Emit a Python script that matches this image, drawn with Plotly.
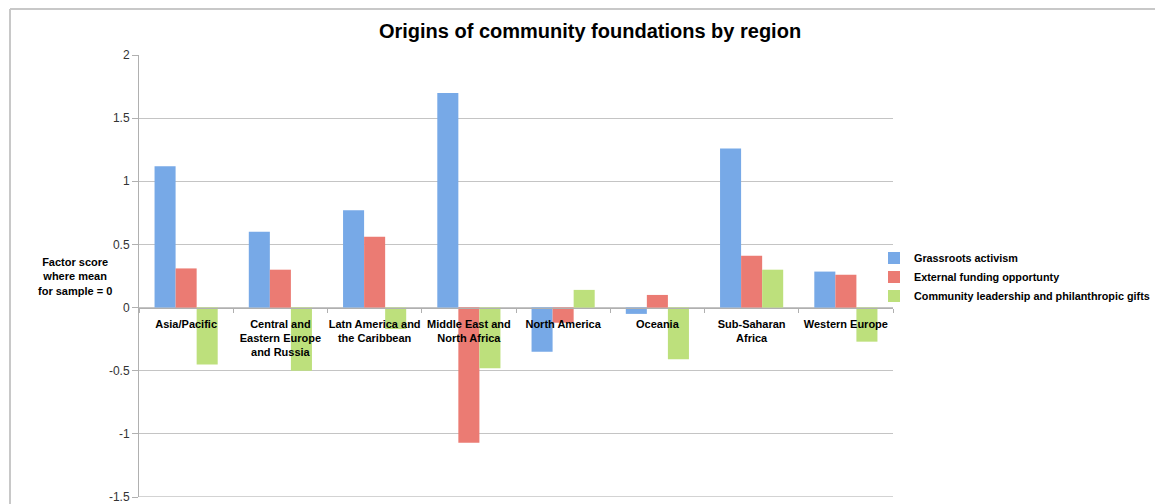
import plotly.graph_objects as go

categories = ["Asia/Pacific", "Central and<br>Eastern Europe<br>and Russia", "Latn America and<br>the Caribbean",
              "Middle East and<br>North Africa", "North America", "Oceania", "Sub-Saharan<br>Africa", "Western Europe"]
grassroots = [1.12, 0.60, 0.77, 1.70, -0.35, -0.05, 1.26, 0.285]
external = [0.31, 0.30, 0.56, -1.07, -0.12, 0.10, 0.41, 0.26]
community = [-0.45, -0.50, -0.17, -0.48, 0.14, -0.41, 0.30, -0.27]
series_names = ["Grassroots activism", "External funding opportunty", "Community leadership and philanthropic gifts"]
colors = ["#77a9e7", "#eb7b73", "#bde07c"]
y_ticks = [-1.5, -1, -0.5, 0, 0.5, 1, 1.5, 2]

FONT = "Liberation Sans, Arial, sans-serif"
fig = go.Figure()
for name, vals, col in zip(series_names, [grassroots, external, community], colors):
    fig.add_trace(go.Bar(x=categories, y=vals, name=name, marker=dict(color=col, line=dict(width=0))))

y_min, y_max = y_ticks[0], y_ticks[-1]
zero_pos = (0 - y_min) / (y_max - y_min)

# page body has an 8px margin: figure pixel = screen pixel - 8
W, H = 1155, 496
L, T, PW, PH = 131, 47, 754, 442

fig.update_layout(
    width=W, height=H,
    margin=dict(l=L, r=W - L - PW, t=T, b=H - T - PH, autoexpand=False),
    paper_bgcolor="white", plot_bgcolor="white",
    barmode="group", bargap=0.33, bargroupgap=0,
    title=dict(text="<b>Origins of community foundations by region</b>", x=582 / W, xref="container", xanchor="center",
               y=1 - 23 / H, yref="container", yanchor="middle",
               font=dict(family=FONT, size=20, color="black")),
    font=dict(family=FONT, size=11, color="#222"),
    legend=dict(x=(866 - L) / PW, y=(T + PH - 269) / PH, xanchor="left", yanchor="middle",
                font=dict(family=FONT, size=10.8, color="black", weight="bold"),
                itemwidth=30, tracegroupgap=2, bgcolor="rgba(0,0,0,0)"),
    xaxis=dict(anchor="free", position=zero_pos, showline=True, linecolor="#b0b0b0", linewidth=1,
               ticks="outside", ticklen=4, tickcolor="#b0b0b0", tickson="boundaries", tickangle=0,
               ticklabelstandoff=6,
               showgrid=False, tickfont=dict(family=FONT, size=11, color="black", weight="bold"),
               layer="above traces", fixedrange=True, automargin=False),
    yaxis=dict(range=[y_min, y_max], tickvals=y_ticks, ticktext=[f"{v:g}" for v in y_ticks],
               showgrid=True, gridcolor="#c4c4c4", gridwidth=1, zeroline=False, automargin=False,
               ticklabeloverflow="allow",
               showline=True, linecolor="#b0b0b0", ticks="outside", ticklen=6, tickcolor="#b0b0b0",
               tickfont=dict(family=FONT, size=12, color="#333"), domain=[0, 1]),
    annotations=[dict(text="<b>Factor score<br>where mean<br>for sample = 0</b>", xref="paper", yref="paper",
                      x=(67 - L) / PW, y=(T + PH - 268) / PH, xanchor="center", yanchor="middle",
                      showarrow=False, align="center", font=dict(family=FONT, size=11, color="black"))],
    shapes=[
        dict(type="line", xref="paper", yref="y", x0=0, x1=1, y0=y_min, y1=y_min,
             line=dict(color="#c4c4c4", width=1.5), layer="below"),
        dict(type="line", xref="paper", yref="paper", x0=(2 - L) / PW, x1=(2 - L) / PW,
             y0=-0.1, y1=(T + PH - 1) / PH, line=dict(color="#c8c8c8", width=2)),
        dict(type="line", xref="paper", yref="paper", x0=(2 - L) / PW, x1=1.5,
             y0=(T + PH - 1) / PH, y1=(T + PH - 1) / PH, line=dict(color="#c8c8c8", width=2)),
    ],
)
fig.write_html("out.html")
